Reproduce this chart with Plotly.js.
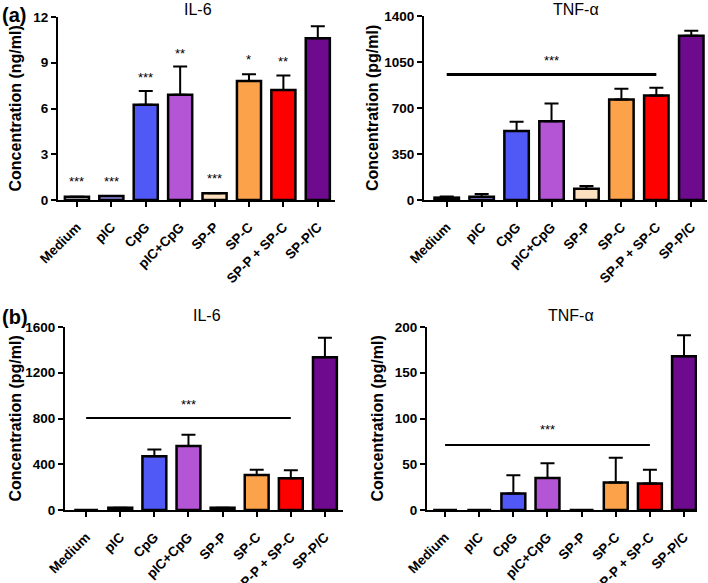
<!DOCTYPE html>
<html>
<head>
<meta charset="utf-8">
<script src="https://cdn.plot.ly/plotly-3.0.1.min.js"></script>
<style>html,body{margin:0;padding:0;background:#fff;}#chart{width:708px;height:583px;}</style>
</head>
<body>
<div id="chart"></div>
<script>
const categories = ['Medium', 'pIC', 'CpG', 'pIC+CpG', 'SP-P', 'SP-C', 'SP-P + SP-C', 'SP-P/C'];
const barColors = ['#c9c9d3', '#8c8ce8', '#5058f5', '#b455d6', '#fde0bf', '#fba24a', '#fe0000', '#6d0a8e'];

// (a) IL-6 ng/ml
const il6A = [0.22, 0.27, 6.25, 6.9, 0.45, 7.8, 7.22, 10.6];
const il6AErr = [0, 0, 0.9, 1.85, 0, 0.45, 0.95, 0.8];
const il6AStars = ['***', '***', '***', '**', '***', '*', '**', ''];
const il6AStarY = [1.2, 1.2, 8.0, 9.6, 1.4, 9.2, 9.1, null];

// (a) TNF-alpha pg/ml
const tnfA = [18, 25, 525, 600, 85, 765, 795, 1250];
const tnfAErr = [8, 20, 70, 135, 22, 82, 60, 38];

// (b) IL-6 pg/ml
const il6B = [0, 20, 470, 560, 20, 305, 278, 1335];
const il6BErr = [0, 0, 58, 98, 0, 48, 70, 170];

// (b) TNF-alpha pg/ml
const tnfB = [0, 0, 18, 35, 0, 30, 29, 168];
const tnfBErr = [0, 0, 20, 16, 0, 27, 15, 23];

const panels = [
  {key: '', y: il6A, err: il6AErr, range: [0, 12], dtick: 3, xr: [-0.55, 7.5],
   xd: [58, 335], yd: [17, 200], title: 'IL-6', tx: 198, ty: 9, ytitle: 'Concentration (ng/ml)', ytx: 15,
   line: null},
  {key: '2', y: tnfA, err: tnfAErr, range: [0, 1400], dtick: 350, xr: [-0.65, 7.45],
   xd: [424, 707], yd: [16, 200], title: 'TNF-α', tx: 576, ty: 9, ytitle: 'Concentration (pg/ml)', ytx: 372,
   line: {y: 955, star: 1058, w: 3}},
  {key: '3', y: il6B, err: il6BErr, range: [0, 1600], dtick: 400, xr: [-0.62, 7.53],
   xd: [65, 343], yd: [327, 510], title: 'IL-6', tx: 207, ty: 315, ytitle: 'Concentration (pg/ml)', ytx: 15,
   line: {y: 805, star: 920, w: 2}},
  {key: '4', y: tnfB, err: tnfBErr, range: [0, 200], dtick: 50, xr: [-0.53, 7.38],
   xd: [427, 697], yd: [327, 510], title: 'TNF-α', tx: 571, ty: 315, ytitle: 'Concentration (pg/ml)', ytx: 377,
   line: {y: 71, star: 88, w: 2}}
];

const W = 708, H = 583;
const FONT = 'Arial, "Liberation Sans", sans-serif';
const traces = [];
const layout = {
  width: W, height: H,
  margin: {l: 0, r: 0, t: 0, b: 0},
  paper_bgcolor: '#fff', plot_bgcolor: '#fff',
  showlegend: false,
  font: {family: FONT, color: '#000'},
  annotations: [], shapes: []
};

panels.forEach(p => {
  const xa = 'x' + p.key, ya = 'y' + p.key;
  traces.push({
    type: 'bar', x: categories, y: p.y, xaxis: xa, yaxis: ya,
    width: 0.7,
    marker: {color: barColors, line: {color: '#000', width: 2.5}},
    error_y: {type: 'data', symmetric: false, array: p.err, arrayminus: p.err.map(() => 0),
              color: '#000', thickness: 2, width: 7},
    hoverinfo: 'skip'
  });
  layout['xaxis' + p.key] = {
    domain: [p.xd[0] / W, p.xd[1] / W], anchor: ya, type: 'category',
    range: p.xr, showline: true, linecolor: '#000', linewidth: 2,
    ticks: 'outside', ticklen: 5, tickwidth: 2, tickcolor: '#000',
    ticklabelstandoff: 7,
    tickangle: -45, tickfont: {family: FONT, size: 13.5, color: '#000', weight: 'bold'},
    showgrid: false, zeroline: false, automargin: false, fixedrange: true
  };
  layout['yaxis' + p.key] = {
    domain: [(H - p.yd[1]) / H, (H - p.yd[0]) / H], anchor: xa,
    range: p.range, dtick: p.dtick, tick0: 0, showline: true, linecolor: '#000', linewidth: 2,
    ticks: 'outside', ticklen: 5, tickwidth: 2, tickcolor: '#000',
    tickfont: {family: FONT, size: 13.5, color: '#000', weight: 'bold'},
    showgrid: false, zeroline: false, automargin: false, fixedrange: true
  };
  layout.annotations.push({
    text: p.title, xref: 'paper', yref: 'paper', x: p.tx / W, y: (H - p.ty) / H,
    xanchor: 'center', yanchor: 'middle', showarrow: false,
    font: {family: FONT, size: 16, color: '#000'}
  });
  layout.annotations.push({
    text: p.ytitle, xref: 'paper', yref: 'paper', x: p.ytx / W, y: (H - (p.yd[0] + p.yd[1]) / 2) / H,
    xanchor: 'center', yanchor: 'middle', textangle: -90, showarrow: false,
    font: {family: FONT, size: 16, color: '#000', weight: 'bold'}
  });
  if (p.line) {
    layout.shapes.push({type: 'line', xref: xa, yref: ya, x0: 0, x1: 6, y0: p.line.y, y1: p.line.y,
      line: {color: '#000', width: p.line.w}});
    layout.annotations.push({text: '***', xref: xa, yref: ya, x: 3, y: p.line.star,
      showarrow: false, xanchor: 'center', yanchor: 'middle',
      font: {family: FONT, size: 13, color: '#000'}});
  }
});

// individual stars for (a) IL-6
categories.forEach((c, i) => {
  if (il6AStars[i]) {
    layout.annotations.push({text: il6AStars[i], xref: 'x', yref: 'y', x: c, y: il6AStarY[i],
      showarrow: false, xanchor: 'center', yanchor: 'middle',
      font: {family: FONT, size: 13, color: '#000'}});
  }
});

// panel labels
layout.annotations.push({text: '(a)', xref: 'paper', yref: 'paper', x: 0, y: (H - 15) / H,
  xanchor: 'left', yanchor: 'middle', showarrow: false, font: {family: FONT, size: 20, color: '#000', weight: 'bold'}});
layout.annotations.push({text: '(b)', xref: 'paper', yref: 'paper', x: 0, y: (H - 317) / H,
  xanchor: 'left', yanchor: 'middle', showarrow: false, font: {family: FONT, size: 20, color: '#000', weight: 'bold'}});

Plotly.newPlot('chart', traces, layout, {displayModeBar: false, staticPlot: true});
</script>
</body>
</html>
